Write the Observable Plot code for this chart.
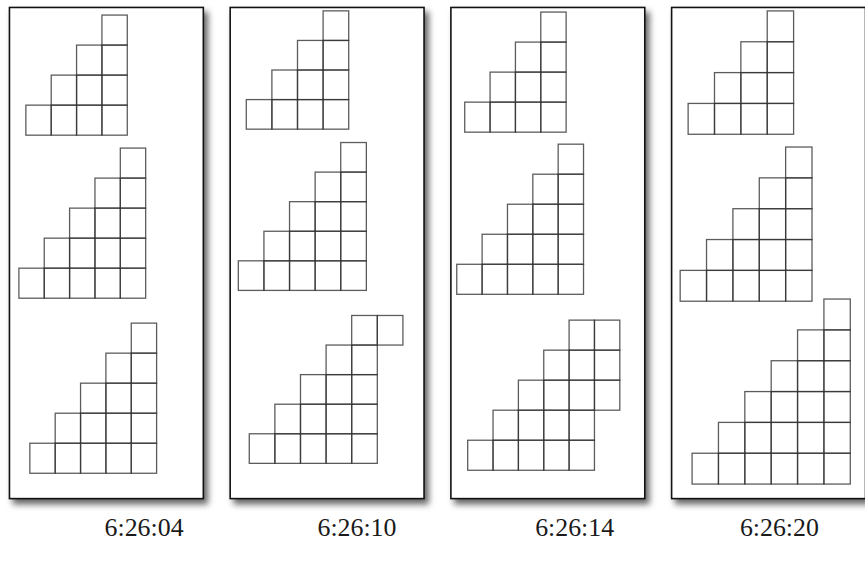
<!DOCTYPE html>
<html><head><meta charset="utf-8">
<script src="https://cdn.jsdelivr.net/npm/d3@7"></script>
<script src="https://cdn.jsdelivr.net/npm/@observablehq/plot@0.6"></script>
<style>html,body{margin:0;padding:0;background:#fff;overflow:hidden}
svg text{font-family:"Liberation Serif","Times New Roman","DejaVu Serif",serif !important}</style>
</head><body><div id="chart"></div>
<script>
// ---- data ----
const times = ["6:26:04", "6:26:10", "6:26:14", "6:26:20"];
// column heights (in squares) of each staircase, one entry per snapshot
const fig1Heights = [[1,2,3,4], [1,2,3,4], [1,2,3,4], [1,2,3,4]];
const fig1Bases   = [[0,0,0,0], [0,0,0,0], [0,0,0,0], [0,0,0,0]];
const fig2Heights = [[1,2,3,4,5], [1,2,3,4,5], [1,2,3,4,5], [1,2,3,4,5]];
const fig2Bases   = [[0,0,0,0,0], [0,0,0,0,0], [0,0,0,0,0], [0,0,0,0,0]];
const fig3Heights = [[1,2,3,4,5], [1,2,3,4,5,1], [1,2,3,4,5,3], [1,2,3,4,5,6]];
// bottom row of each column (a falling column starts above the ground)
const fig3Bases   = [[0,0,0,0,0], [0,0,0,0,0,4], [0,0,0,0,0,2], [0,0,0,0,0,0]];

// ---- layout (cell units inside each panel) ----
const figOrigins = [
  [[0.667, 4.27], [0.392, 9.70], [0.824, 15.53]],
  [[0.655, 4.07], [0.341, 9.44], [0.773, 15.20]],
  [[0.565, 4.17], [0.251, 9.57], [0.682, 15.43]],
  [[0.671, 4.24], [0.357, 9.80], [0.827, 15.89]]
];
const panelScale = [[1, 1], [1.01, 0.985], [1, 1], [1.04, 1.027]];
const labelX = [5.31, 5.00, 4.88, 4.25];
const labelY = 17.32;

const figures = [[fig1Heights, fig1Bases], [fig2Heights, fig2Bases], [fig3Heights, fig3Bases]];
const cells = [];
times.forEach((t, p) => {
  const [sx, sy] = panelScale[p];
  figures.forEach(([H, B], f) => {
    const [ox, oy] = figOrigins[p][f];
    H[p].forEach((h, c) => {
      for (let r = B[p][c]; r < B[p][c] + h; r++) {
        cells.push({time: t, x1: ox + c * sx, x2: ox + (c + 1) * sx,
                    y1: oy - r * sy, y2: oy - (r + 1) * sy});
      }
    });
  });
});
const labels = times.map((t, p) => ({time: t, x: labelX[p], y: labelY}));

const chart = Plot.plot({
  width: 870, height: 564,
  marginLeft: 8, marginRight: 0, marginTop: 7, marginBottom: 63,
  style: {fontFamily: "Liberation Serif, serif", background: "white"},
  x: {domain: [0, 195 / 25.5], axis: null},
  y: {domain: [494 / 30.2, 0], axis: null},
  fx: {domain: times, paddingInner: 0.123, paddingOuter: 0, axis: null, label: null},
  marks: [
    Plot.frame({fill: "white", stroke: "#111", strokeWidth: 1.6}),
    Plot.rect(cells, {fx: "time", x1: "x1", x2: "x2", y1: "y1", y2: "y2",
      fill: "none", stroke: "#333", strokeWidth: 1.3, strokeOpacity: 0.8}),
    Plot.text(labels, {fx: "time", x: "x", y: "y", text: "time", clip: false,
      fontFamily: "Liberation Serif", fontSize: 26, fill: "#1a1a1a",
      textAnchor: "middle", lineAnchor: "middle"})
  ]
});
chart.style.overflow = "visible";
chart.querySelectorAll('rect[aria-label="frame"], [aria-label="frame"] > rect').forEach(r => {
  r.style.filter = "drop-shadow(4px 5px 3px rgba(0,0,0,0.6))";
});
document.getElementById("chart").appendChild(chart);
</script>
</body></html>
